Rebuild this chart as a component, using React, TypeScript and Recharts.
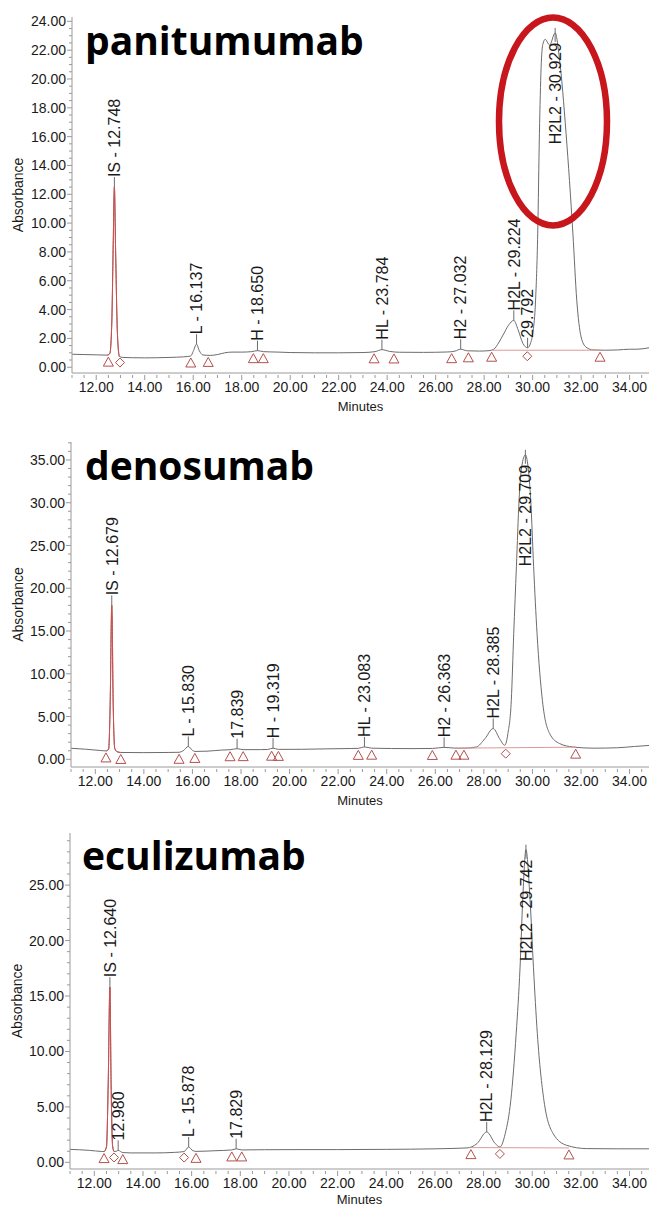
import React from "react";
import { ComposedChart, Line, Scatter, XAxis, YAxis, ReferenceDot } from "recharts";

type Pt = [number, number];
type Mark = [number, number, "tri" | "dia"];
type Peak = [string, number, number];

const AXIS = "#9a9a9a";
const TRACE = "#6c6c6c";
const INK = "#1a1a1a";
const MARK = "#b4504e";
const IS_RED = "#d84a48";
const BASE_RED = "#dc9a98";
const RING = "#c8161d";

const X_DOMAIN: [number, number] = [11, 34.8];
const xMajor = [12, 14, 16, 18, 20, 22, 24, 26, 28, 30, 32, 34];

// ---- panitumumab ----
const panitumumabTrace: Pt[] = [
  [11.0, 0.9], [11.5, 0.88], [12.0, 0.86], [12.45, 0.84], [12.56, 0.95], [12.64, 3.0],
  [12.7, 8.5], [12.748, 12.5], [12.8, 8.0], [12.87, 2.5], [12.95, 0.75], [13.1, 0.68],
  [13.5, 0.66], [14.0, 0.65], [15.0, 0.68], [15.6, 0.72], [15.9, 0.78], [16.0, 1.1],
  [16.137, 1.6], [16.25, 1.15], [16.4, 0.85], [16.7, 0.82], [17.0, 0.88], [17.3, 1.0],
  [17.6, 1.05], [18.0, 1.05], [18.4, 1.08], [18.65, 1.15], [18.9, 1.08], [19.5, 1.05],
  [20.0, 1.02], [21.0, 1.0], [22.0, 1.0], [23.0, 1.02], [23.5, 1.08], [23.784, 1.22],
  [24.1, 1.1], [24.5, 1.04], [25.5, 1.03], [26.5, 1.06], [26.8, 1.12], [27.032, 1.25],
  [27.3, 1.14], [27.8, 1.12], [28.2, 1.15], [28.4, 1.25], [28.6, 1.7], [28.8, 2.3],
  [29.0, 2.9], [29.224, 3.25], [29.4, 2.6], [29.6, 1.65], [29.792, 1.35], [29.92, 1.7],
  [30.02, 2.5], [30.12, 4.6], [30.21, 9.3], [30.28, 16.2], [30.35, 20.8], [30.42, 22.4],
  [30.52, 22.75], [30.7, 22.35], [30.929, 23.2], [31.1, 21.5], [31.38, 16.2], [31.66, 9.3],
  [31.82, 4.65], [32.0, 2.1], [32.2, 1.4], [32.5, 1.2], [33.0, 1.18], [33.5, 1.2],
  [34.0, 1.25], [34.3, 1.25], [34.8, 1.35],
];
const panitumumabMarks: Mark[] = [
  [12.5, 0.84, "tri"], [12.98, 0.74, "dia"], [15.9, 0.78, "tri"], [16.62, 0.82, "tri"],
  [18.48, 1.08, "tri"], [18.89, 1.08, "tri"], [23.46, 1.07, "tri"], [24.28, 1.06, "tri"],
  [26.66, 1.08, "tri"], [27.35, 1.14, "tri"], [28.31, 1.18, "tri"], [29.78, 1.18, "dia"],
  [32.78, 1.18, "tri"],
];
const panitumumabPeaks: Peak[] = [
  ["IS - 12.748", 12.748, 12.5], ["L - 16.137", 16.137, 1.6], ["H - 18.650", 18.65, 1.15],
  ["HL - 23.784", 23.784, 1.22], ["H2 - 27.032", 27.032, 1.25], ["H2L - 29.224", 29.224, 3.25],
  ["29.792", 29.792, 1.35], ["H2L2 - 30.929", 30.929, 23.2],
];
const panitumumabBaseline: Pt[] = [[28.31, 1.18], [32.78, 1.18]];
const panitumumabIS: Pt = [12.45, 12.95];
const panitumumabYMajor = [0, 2, 4, 6, 8, 10, 12, 14, 16, 18, 20, 22, 24];
const panitumumabRing: Pt = [30.84, 17.05];

// ---- denosumab ----
const denosumabTrace: Pt[] = [
  [11.0, 1.29], [11.6, 1.18], [12.2, 1.03], [12.45, 0.98], [12.55, 1.2], [12.61, 6],
  [12.679, 18.0], [12.74, 6], [12.8, 1.3], [12.9, 0.88], [13.05, 0.8], [14.0, 0.78],
  [15.0, 0.8], [15.45, 0.82], [15.62, 1.0], [15.83, 1.5], [16.0, 1.05], [16.1, 0.92],
  [16.6, 0.95], [17.2, 1.08], [17.55, 1.12], [17.839, 1.24], [18.09, 1.13], [18.8, 1.13],
  [19.1, 1.15], [19.319, 1.3], [19.54, 1.16], [20.5, 1.17], [21.5, 1.22], [22.5, 1.26],
  [22.83, 1.28], [23.083, 1.45], [23.38, 1.3], [24.2, 1.26], [25.0, 1.25], [25.88, 1.27],
  [26.363, 1.4], [26.85, 1.3], [27.18, 1.3], [27.69, 1.44], [28.04, 2.4], [28.385, 3.6],
  [28.65, 2.4], [28.86, 1.64], [28.99, 3.0], [29.13, 6.9], [29.23, 14.7], [29.34, 22.5],
  [29.45, 30.3], [29.56, 34.2], [29.709, 35.6], [29.82, 34.2], [29.93, 30.3], [30.05, 22.5],
  [30.19, 14.7], [30.41, 6.9], [30.71, 3.0], [31.12, 1.84], [31.67, 1.44], [32.5, 1.3],
  [33.5, 1.35], [34.2, 1.5], [34.8, 1.62],
];
const denosumabMarks: Mark[] = [
  [12.44, 0.98, "tri"], [13.05, 0.8, "tri"], [15.45, 0.82, "tri"], [16.1, 0.92, "tri"],
  [17.55, 1.12, "tri"], [18.09, 1.13, "tri"], [19.26, 1.18, "tri"], [19.54, 1.16, "tri"],
  [22.83, 1.28, "tri"], [23.38, 1.3, "tri"], [25.88, 1.27, "tri"], [26.85, 1.3, "tri"],
  [27.18, 1.3, "tri"], [28.9, 1.36, "dia"], [31.78, 1.42, "tri"],
];
const denosumabPeaks: Peak[] = [
  ["IS - 12.679", 12.679, 18.0], ["L - 15.830", 15.83, 1.5], ["17.839", 17.839, 1.24],
  ["H - 19.319", 19.319, 1.3], ["HL - 23.083", 23.083, 1.45], ["H2 - 26.363", 26.363, 1.4],
  ["H2L - 28.385", 28.385, 3.6], ["H2L2 - 29.709", 29.709, 35.6],
];
const denosumabBaseline: Pt[] = [[26.85, 1.3], [31.78, 1.42]];
const denosumabIS: Pt = [12.44, 13.05];
const denosumabYMajor = [0, 5, 10, 15, 20, 25, 30, 35];

// ---- eculizumab ----
const eculizumabTrace: Pt[] = [
  [11.0, 1.17], [11.8, 1.08], [12.3, 0.98], [12.4, 0.97], [12.5, 1.4], [12.57, 7],
  [12.64, 15.8], [12.69, 7], [12.75, 1.5], [12.81, 0.98], [12.9, 1.0], [12.98, 1.08],
  [13.17, 0.88], [13.5, 0.85], [14.5, 0.85], [15.3, 0.9], [15.69, 0.97], [15.878, 1.38],
  [16.05, 1.05], [16.18, 0.99], [17.0, 1.05], [17.65, 1.12], [17.829, 1.22], [18.06, 1.12],
  [19.0, 1.14], [20.5, 1.15], [22.0, 1.15], [24.0, 1.17], [26.0, 1.22], [27.32, 1.3],
  [27.73, 1.69], [28.129, 2.74], [28.48, 1.69], [28.67, 1.39], [28.89, 2.59], [29.12, 5.6],
  [29.34, 11.6], [29.5, 17.6], [29.61, 23.7], [29.742, 28.2], [29.91, 23.7], [30.05, 17.6],
  [30.21, 11.6], [30.48, 5.6], [30.86, 2.59], [31.41, 1.54], [32.23, 1.24], [33.5, 1.22],
  [34.8, 1.22],
];
const eculizumabMarks: Mark[] = [
  [12.4, 0.97, "tri"], [12.81, 0.98, "dia"], [13.17, 0.88, "tri"], [15.69, 0.97, "dia"],
  [16.18, 0.99, "tri"], [17.65, 1.12, "tri"], [18.06, 1.12, "tri"], [27.48, 1.33, "tri"],
  [28.67, 1.3, "dia"], [31.51, 1.3, "tri"],
];
const eculizumabPeaks: Peak[] = [
  ["IS - 12.640", 12.64, 15.8], ["12.980", 12.98, 1.08], ["L - 15.878", 15.878, 1.38],
  ["17.829", 17.829, 1.22], ["H2L - 28.129", 28.129, 2.74], ["H2L2 - 29.742", 29.742, 28.2],
];
const eculizumabBaseline: Pt[] = [[27.48, 1.33], [31.51, 1.3]];
const eculizumabIS: Pt = [12.4, 12.81];
const eculizumabYMajor = [0, 5, 10, 15, 20, 25];

const steps = (from: number, to: number, step: number) => {
  const out: number[] = [];
  for (let v = from; v <= to + 1e-9; v += step) out.push(Math.round(v * 100) / 100);
  return out;
};
const isOn = (v: number, step: number) => Math.abs(v / step - Math.round(v / step)) < 1e-6;
const toRows = (pts: Pt[]) => pts.map(([t, v]) => ({ t, v }));

const xTicks = steps(11, 34.5, 0.5);

function XTick(props: any) {
  const { x, y, payload } = props;
  const v = payload.value as number;
  const major = xMajor.includes(v);
  return (
    <g>
      <line x1={x} x2={x} y1={y + 2} y2={y + (major ? 7 : 5)} stroke={AXIS} />
      {major && (
        <text x={x} y={y + 19} textAnchor="middle" fontSize={14} fill={INK}>
          {v.toFixed(2)}
        </text>
      )}
    </g>
  );
}

const yTick = (majorStep: number) => (props: any) => {
  const { x, y, payload } = props;
  const v = payload.value as number;
  const major = isOn(v, majorStep);
  return (
    <g>
      <line x1={x - (major ? 5 : 3)} x2={x} y1={y} y2={y} stroke={AXIS} />
      {major && (
        <text x={x - 6} y={y} dy="0.36em" textAnchor="end" fontSize={14} fill={INK}>
          {v.toFixed(2)}
        </text>
      )}
    </g>
  );
};

function MarkShape(props: any) {
  const { cx, cy, payload } = props;
  if (payload.kind === "dia") {
    const c = cy + 6;
    return (
      <path
        d={`M${cx},${c - 4.5} L${cx + 4.5},${c} L${cx},${c + 4.5} L${cx - 4.5},${c} Z`}
        fill="none"
        stroke={MARK}
      />
    );
  }
  return (
    <path
      d={`M${cx},${cy + 2} L${cx + 5},${cy + 11} L${cx - 5},${cy + 11} Z`}
      fill="none"
      stroke={MARK}
    />
  );
}

const peakLabel = (text: string, inside: boolean) => (p: any) => {
  const { cx, cy } = p;
  if (inside) {
    const ty = cy + 10;
    return (
      <g>
        <line x1={cx} x2={cx} y1={cy - 5} y2={cy + 9} stroke={TRACE} />
        <text
          x={cx}
          y={ty}
          dy="0.36em"
          transform={`rotate(-90 ${cx} ${ty})`}
          textAnchor="end"
          fontSize={16}
          fill={INK}
        >
          {text}
        </text>
      </g>
    );
  }
  const ty = cy - 10;
  return (
    <g>
      <line x1={cx} x2={cx} y1={cy} y2={ty} stroke={TRACE} />
      <text
        x={cx}
        y={ty}
        dy="0.36em"
        transform={`rotate(-90 ${cx} ${ty})`}
        textAnchor="start"
        fontSize={16}
        fill={INK}
      >
        {text}
      </text>
    </g>
  );
};

interface PanelCfg {
  name: string;
  trace: Pt[];
  marks: Mark[];
  peaks: Peak[];
  baseline: Pt[];
  isWindow: Pt;
  yMajor: number[];
  yMinorStep: number;
  yDomain: [number, number];
  ring?: Pt;
  height: number;
  top: number;
  yAxisW: number;
  xAxisH: number;
  minutesOffset: number;
  absOffset: number;
  titleX: number;
  titleY: number;
}

const panels: PanelCfg[] = [
  {
    name: "panitumumab",
    trace: panitumumabTrace,
    marks: panitumumabMarks,
    peaks: panitumumabPeaks,
    baseline: panitumumabBaseline,
    isWindow: panitumumabIS,
    yMajor: panitumumabYMajor,
    yMinorStep: 0.5,
    yDomain: [-0.4, 24.3],
    ring: panitumumabRing,
    height: 415,
    top: 17,
    yAxisW: 72,
    xAxisH: 42,
    minutesOffset: 4,
    absOffset: 18,
    titleX: 85,
    titleY: 55,
  },
  {
    name: "denosumab",
    trace: denosumabTrace,
    marks: denosumabMarks,
    peaks: denosumabPeaks,
    baseline: denosumabBaseline,
    isWindow: denosumabIS,
    yMajor: denosumabYMajor,
    yMinorStep: 1,
    yDomain: [-0.9, 37.1],
    height: 395,
    top: 27,
    yAxisW: 71,
    xAxisH: 43,
    minutesOffset: 5,
    absOffset: 18,
    titleX: 85,
    titleY: 65,
  },
  {
    name: "eculizumab",
    trace: eculizumabTrace,
    marks: eculizumabMarks,
    peaks: eculizumabPeaks,
    baseline: eculizumabBaseline,
    isWindow: eculizumabIS,
    yMajor: eculizumabYMajor,
    yMinorStep: 1,
    yDomain: [-0.6, 29.7],
    height: 398,
    top: 23,
    yAxisW: 70,
    xAxisH: 39,
    minutesOffset: 4,
    absOffset: 17,
    titleX: 82,
    titleY: 60,
  },
];

function Panel({ cfg }: { cfg: PanelCfg }) {
  const traceRows = toRows(cfg.trace);
  const isRows = traceRows.filter((r) => r.t >= cfg.isWindow[0] - 1e-9 && r.t <= cfg.isWindow[1] + 1e-9);
  const markRows = cfg.marks.map(([t, v, kind]) => ({ t, v, kind }));
  const yTicks = steps(0, Math.floor(cfg.yDomain[1]), cfg.yMinorStep);
  const yMax = cfg.yDomain[1];

  return (
    <div style={{ position: "relative", width: 649, height: cfg.height }}>
      <ComposedChart
        width={649}
        height={cfg.height}
        margin={{ top: cfg.top, right: 0, bottom: 0, left: 0 }}
      >
        <XAxis
          type="number"
          dataKey="t"
          domain={X_DOMAIN}
          allowDataOverflow
          ticks={xTicks}
          interval={0}
          tick={XTick}
          tickSize={0}
          tickMargin={0}
          tickLine={false}
          height={cfg.xAxisH}
          stroke={AXIS}
          label={{
            value: "Minutes",
            position: "insideBottom",
            offset: cfg.minutesOffset,
            fontSize: 13,
            fill: INK,
          }}
        />
        <YAxis
          type="number"
          domain={cfg.yDomain}
          allowDataOverflow
          ticks={yTicks}
          interval={0}
          tick={yTick(cfg.yMajor[1] - cfg.yMajor[0])}
          tickSize={0}
          tickMargin={0}
          tickLine={false}
          width={cfg.yAxisW}
          stroke={AXIS}
          label={{
            value: "Absorbance",
            angle: -90,
            position: "insideLeft",
            offset: cfg.absOffset,
            fontSize: 14,
            fill: INK,
            style: { textAnchor: "middle" },
          }}
        />
        <Line
          data={traceRows}
          dataKey="v"
          type="monotone"
          stroke={TRACE}
          strokeWidth={1}
          dot={false}
          activeDot={false}
          isAnimationActive={false}
        />
        <Line
          data={isRows}
          dataKey="v"
          type="monotone"
          stroke={IS_RED}
          strokeWidth={1}
          dot={false}
          activeDot={false}
          isAnimationActive={false}
        />
        <Line
          data={toRows(cfg.baseline)}
          dataKey="v"
          type="linear"
          stroke={BASE_RED}
          strokeWidth={1}
          dot={false}
          activeDot={false}
          isAnimationActive={false}
        />
        <Scatter data={markRows} dataKey="v" shape={MarkShape} isAnimationActive={false} />
        {cfg.peaks.map(([text, t, v]) => (
          <ReferenceDot
            key={text}
            x={t}
            y={v}
            ifOverflow="visible"
            shape={peakLabel(text, v > 0.7 * yMax)}
          />
        ))}
        {cfg.ring && (
          <ReferenceDot
            x={cfg.ring[0]}
            y={cfg.ring[1]}
            ifOverflow="visible"
            shape={(p: any) => (
              <ellipse
                cx={p.cx}
                cy={p.cy}
                rx={54}
                ry={104}
                fill="none"
                stroke={RING}
                strokeWidth={6.5}
              />
            )}
          />
        )}
      </ComposedChart>
      <svg
        width={649}
        height={cfg.height}
        style={{ position: "absolute", left: 0, top: 0, pointerEvents: "none" }}
      >
        <text
          x={cfg.titleX}
          y={cfg.titleY}
          fontFamily="'Open Sans', sans-serif"
          fontWeight={700}
          fontSize={39}
          fill="#000"
        >
          {cfg.name}
        </text>
      </svg>
    </div>
  );
}

export default function App() {
  return (
    <div
      style={{
        width: 649,
        background: "#fff",
        fontFamily: "'Liberation Sans', Arial, sans-serif",
      }}
    >
      <style>{"body{margin:0;background:#fff}"}</style>
      {panels.map((cfg) => (
        <Panel key={cfg.name} cfg={cfg} />
      ))}
    </div>
  );
}
